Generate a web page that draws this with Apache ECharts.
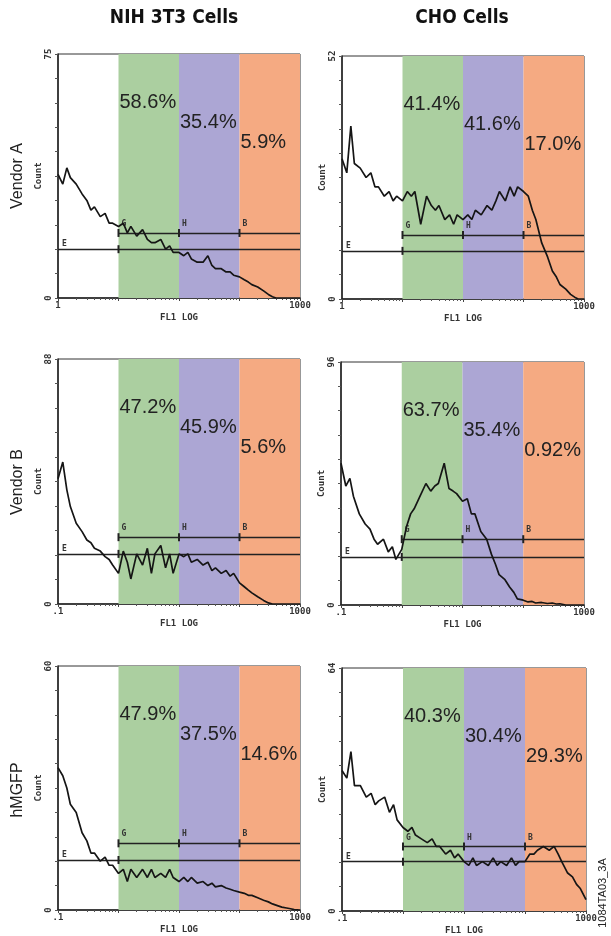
<!DOCTYPE html>
<html>
<head>
<meta charset="utf-8">
<style>
  html, body { margin: 0; padding: 0; background: #fff; }
  #main { width: 611px; height: 936px; }
</style>
<script src="https://cdn.jsdelivr.net/npm/echarts@6/dist/echarts.min.js"></script>
</head>
<body>
<div id="main"></div>
<script>
// FL1 channel (log scale) shared by all histograms
var fl1 = [0.1, 0.12, 0.14, 0.16, 0.2, 0.25, 0.3, 0.35, 0.4, 0.5, 0.6, 0.7, 0.8,
  1, 1.2, 1.4, 1.6, 2, 2.5, 3, 3.5, 4, 5, 6, 7, 8,
  10, 12, 14, 16, 20, 25, 30, 35, 40, 50, 60, 70, 80,
  100, 120, 140, 160, 200, 250, 300, 350, 400, 500, 600, 700, 800, 1000]

// counts
var countNihA = [38, 35, 40, 37, 35, 32, 30, 27, 28, 25, 26, 23, 23,
  22, 23, 20, 22, 19, 21, 18, 17, 17, 18, 15, 16, 14,
  14, 13, 14, 12, 11, 11, 13, 10, 9, 9, 8, 8, 7,
  6.5, 5.6, 4.9, 4.1, 3.4, 2.2, 1.1, 0.4, 0, 0, 0, 0, 0, 0]
var countChoA = [30, 27, 37, 29, 28, 26, 27, 24, 24, 22, 23, 21, 22,
  21, 23, 22, 23, 16, 22, 20, 19, 20, 17, 18, 16, 18,
  17, 18, 17, 19, 18, 20, 19, 21, 23, 21, 24, 22, 24,
  23, 22, 19, 17, 12, 9, 6, 4.7, 3.1, 2.1, 1, 0.4, 0, 0]
var countNihB = [45, 51, 41, 35, 29, 26, 23, 22, 20, 19, 17, 16, 14,
  11, 19, 15, 9, 18, 14, 20, 11, 18, 21, 13, 18, 11,
  18, 17, 18, 15, 16, 14, 15, 12, 13, 11, 12, 10, 11,
  7.6, 6.2, 5, 4, 2.6, 1.3, 0.4, 0, 0, 0, 0, 0, 0, 0]
var countChoB = [56, 47, 50, 43, 36, 32, 30, 26, 24, 26, 21, 23, 18,
  22, 31, 36, 38, 43, 48, 45, 47, 48, 56, 46, 45, 44,
  41, 42, 36, 36, 29, 26, 20, 16, 12, 10, 7, 5, 2.4,
  1.9, 1.2, 1.4, 0.8, 1, 0.6, 0.8, 0.4, 0.5, 0, 0, 0, 0, 0]
var countNihG = [35, 33, 30, 26, 24, 19, 17, 14, 14, 12, 13, 11, 11,
  9, 10, 7, 10, 8, 10, 8, 10, 8, 9, 8, 10, 8,
  7, 8, 7, 8, 6.6, 7, 6, 6.6, 5.7, 6, 5.4, 5.1, 4.8,
  4.4, 4.1, 3.6, 3.6, 3, 2.4, 2, 1.5, 1.2, 0.7, 0.5, 0.3, 0.1, 0]
var countChoG = [37, 35, 42, 33, 33, 30, 31, 28, 29, 30, 26, 28, 24,
  22, 21, 22, 20, 19, 18, 19, 17, 17, 15, 16, 14, 15,
  13, 12, 14, 12, 13, 12, 14, 12, 13, 12, 14, 12, 13,
  13, 15, 15, 16, 17, 16, 17, 15, 13, 10, 9, 7, 6, 3]

// percentages in the green / purple / orange gates
var pctNihA = ['58.6%', '35.4%', '5.9%']
var pctChoA = ['41.4%', '41.6%', '17.0%']
var pctNihB = ['47.2%', '45.9%', '5.6%']
var pctChoB = ['63.7%', '35.4%', '0.92%']
var pctNihG = ['47.9%', '37.5%', '14.6%']
var pctChoG = ['40.3%', '30.4%', '29.3%']

var yMax = [75, 52, 88, 96, 60, 64]
var gateLow = [15, 10.3, 18, 19, 12.3, 13]
var gateHigh = [20, 13.7, 24, 26, 16.4, 17]
var bandEdges = [0.1, 1, 10, 100, 1000]
var xMinLabel = ['1', '1', '.1', '.1', '.1', '.1']
var xMaxLabel = '1000'
var colTitles = ['NIH 3T3 Cells', 'CHO Cells']
var rowTitles = ['Vendor A', 'Vendor B', 'hMGFP']

;(function () {
  var myChart = echarts.init(document.getElementById('main'))
  var counts = [countNihA, countChoA, countNihB, countChoB, countNihG, countChoG]
  var pcts = [pctNihA, pctChoA, pctNihB, pctChoB, pctNihG, pctChoG]
  var grids = [
    { left: 58, top: 54, width: 242, height: 244 },
    { left: 342, top: 56, width: 242, height: 243 },
    { left: 58, top: 359, width: 242, height: 245 },
    { left: 341, top: 362, width: 243, height: 243 },
    { left: 58, top: 666, width: 242, height: 244 },
    { left: 342, top: 668, width: 244, height: 244 }
  ]
  var bandColors = ['#abcfa0', '#aca6d4', '#f5aa82']
  var smallFont = { fontFamily: 'DejaVu Sans Mono', fontWeight: 'bold', fontSize: 9, color: '#333' }
  var titleFont = 'bold 19px "DejaVu Sans Condensed", "Liberation Sans"'

  var option = {
    animation: false,
    backgroundColor: '#fff',
    grid: [],
    xAxis: [],
    yAxis: [],
    series: [],
    graphic: []
  }

  grids.forEach(function (g, i) {
    option.grid.push({
      left: g.left, top: g.top, width: g.width, height: g.height,
      show: true, borderColor: '#333', borderWidth: 1, backgroundColor: '#fff'
    })
    option.xAxis.push({
      type: 'log',
      gridIndex: i,
      min: 0.1,
      max: 1000,
      name: 'FL1 LOG',
      nameLocation: 'middle',
      nameGap: 15,
      nameTextStyle: smallFont,
      axisLine: { lineStyle: { color: '#222', width: 1.5 } },
      axisTick: { show: true, length: 3, lineStyle: { color: '#444' } },
      minorTick: { show: true, splitNumber: 9, length: 2, lineStyle: { color: '#555' } },
      splitLine: { show: false },
      axisLabel: Object.assign({
        margin: 3,
        formatter: function (v) {
          if (Math.abs(Math.log10(v) + 1) < 0.01) return xMinLabel[i]
          if (Math.abs(Math.log10(v) - 3) < 0.01) return xMaxLabel
          return ''
        }
      }, smallFont)
    })
    option.yAxis.push({
      type: 'value',
      gridIndex: i,
      min: 0,
      max: yMax[i],
      interval: yMax[i] / 10,
      name: 'Count',
      nameLocation: 'middle',
      nameRotate: 90,
      nameGap: 7,
      nameTextStyle: smallFont,
      axisLine: { show: true, lineStyle: { color: '#222', width: 1.5 } },
      axisTick: { show: true, length: 3, lineStyle: { color: '#555' } },
      splitLine: { show: false },
      axisLabel: Object.assign({
        rotate: 90,
        margin: 5,
        formatter: function (v) {
          if (v === 0) return '0'
          if (Math.abs(v - yMax[i]) < 0.01) return String(yMax[i])
          return ''
        }
      }, smallFont)
    })

    // coloured gates with the percentages
    var areas = []
    for (var b = 0; b < 3; b++) {
      areas.push([
        {
          xAxis: bandEdges[b + 1],
          itemStyle: { color: bandColors[b] },
          label: {
            show: true,
            position: 'insideTopLeft',
            distance: 0,
            offset: [1, 38 + 20 * b],
            formatter: pcts[i][b],
            fontFamily: 'Liberation Sans',
            fontSize: 20,
            color: '#222'
          }
        },
        { xAxis: bandEdges[b + 2] }
      ])
    }

    option.series.push({
      type: 'line',
      xAxisIndex: i,
      yAxisIndex: i,
      data: fl1.map(function (x, k) { return [x, counts[i][k]] }),
      symbol: 'none',
      lineStyle: { color: '#151515', width: 1.7 },
      z: 5,
      markArea: { silent: true, z: 1, data: areas },
      markLine: {
        silent: true,
        symbol: 'none',
        label: { show: false },
        lineStyle: { color: '#222', width: 1.3, type: 'solid' },
        data: [
          [{ coord: [bandEdges[0], gateLow[i]] }, { coord: [bandEdges[4], gateLow[i]] }],
          [{ coord: [bandEdges[1], gateHigh[i]] }, { coord: [bandEdges[4], gateHigh[i]] }]
        ]
      },
      markPoint: {
        silent: true,
        symbol: 'rect',
        symbolSize: [2, 8],
        itemStyle: { color: '#222' },
        label: {
          show: true,
          position: [4, -9],
          formatter: '{b}',
          fontFamily: 'DejaVu Sans Mono',
          fontWeight: 'bold',
          fontSize: 8,
          color: '#333'
        },
        data: [
          { name: 'E', coord: [bandEdges[0], gateLow[i]], symbolSize: 0.1 },
          { name: '', coord: [bandEdges[1], gateLow[i]] },
          { name: 'G', coord: [bandEdges[1], gateHigh[i]] },
          { name: 'H', coord: [bandEdges[2], gateHigh[i]] },
          { name: 'B', coord: [bandEdges[3], gateHigh[i]] }
        ]
      }
    })
  })

  // column and row titles
  option.graphic.push(
    { type: 'text', x: 174, y: 18, style: { text: colTitles[0], fill: '#111', font: titleFont, textAlign: 'center', textVerticalAlign: 'middle', align: 'center', verticalAlign: 'middle' } },
    { type: 'text', x: 462, y: 18, style: { text: colTitles[1], fill: '#111', font: titleFont, textAlign: 'center', textVerticalAlign: 'middle', align: 'center', verticalAlign: 'middle' } }
  )
  var rowY = [176, 482, 790]
  rowTitles.forEach(function (t, r) {
    option.graphic.push({
      type: 'text', x: 18, y: rowY[r], rotation: Math.PI / 2,
      style: { text: t, fill: '#222', font: '16px "Liberation Sans"', textAlign: 'center', textVerticalAlign: 'middle', align: 'center', verticalAlign: 'middle' }
    })
  })
  option.graphic.push({
    type: 'text', x: 603, y: 893, rotation: Math.PI / 2,
    style: { text: '1084TA03_3A', fill: '#222', font: '11px "Liberation Sans"', textAlign: 'center', textVerticalAlign: 'middle', align: 'center', verticalAlign: 'middle' }
  })

  myChart.setOption(option)
  window.addEventListener('resize', function () {
    myChart.resize()
  })
})()
</script>
</body>
</html>
